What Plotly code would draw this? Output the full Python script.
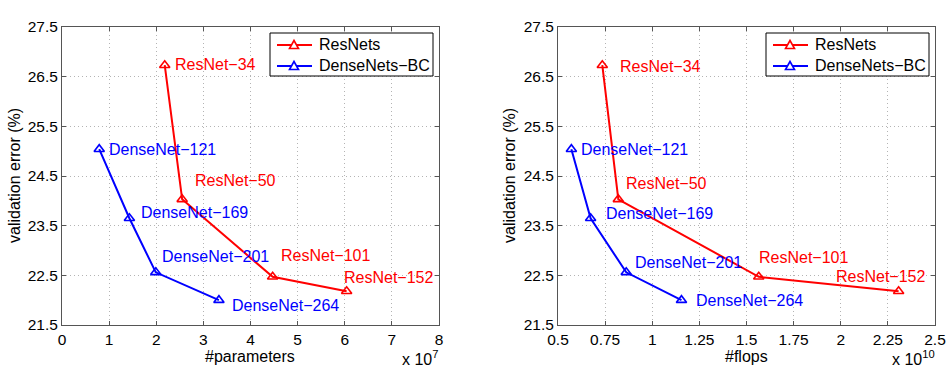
import plotly.graph_objects as go

# ---- data ----
resnet_names = ["ResNet−34", "ResNet−50", "ResNet−101", "ResNet−152"]
resnet_params = [2.18, 2.55, 4.47, 6.04]        # x 1e7
resnet_flops = [0.735, 0.82, 1.565, 2.307]      # x 1e10
resnet_err = [26.73, 24.03, 22.47, 22.18]

dense_names = ["DenseNet−121", "DenseNet−169", "DenseNet−201", "DenseNet−264"]
dense_params = [0.79, 1.43, 1.99, 3.33]         # x 1e7
dense_flops = [0.571, 0.673, 0.862, 1.155]      # x 1e10
dense_err = [25.04, 23.65, 22.56, 22.0]

series_names = ["ResNets", "DenseNets−BC"]

y_ticks = [21.5, 22.5, 23.5, 24.5, 25.5, 26.5, 27.5]
x1_ticks = [0, 1, 2, 3, 4, 5, 6, 7, 8]
x2_ticks = [0.5, 0.75, 1, 1.25, 1.5, 1.75, 2, 2.25, 2.5]
x2_ticklabels = ["0.5", "0.75", "1", "1.25", "1.5", "1.75", "2", "2.25", "2.5"]

# label offsets (pixels) - styling
res_off_1 = [(8, 1), (11, 19), (6, 21), (-5, 14)]
den_off_1 = [(8, 0), (10, 6), (4, 16), (11, -5)]
res_off_2 = [(16, -1), (6, 16), (-2, 19), (-65, 15)]
den_off_2 = [(8, 0), (13, 5), (7, 10), (13, 0)]

RED = "#ff0000"
BLUE = "#0000ff"
FONT = "Liberation Sans, Arial, sans-serif"

W, H = 952, 370
def px(v): return v / W
def py(v): return 1 - v / H

fig = go.Figure()

def add_series(x, y, name, color, xa, ya):
    fig.add_trace(go.Scatter(
        x=x, y=y, mode="lines+markers", name=name, showlegend=False,
        line=dict(color=color, width=2),
        marker=dict(symbol="triangle-up-open", size=9, color=color, line=dict(width=1.6, color=color)),
        xaxis=xa, yaxis=ya))

add_series(resnet_params, resnet_err, series_names[0], RED, "x", "y")
add_series(dense_params, dense_err, series_names[1], BLUE, "x", "y")
add_series(resnet_flops, resnet_err, series_names[0], RED, "x2", "y2")
add_series(dense_flops, dense_err, series_names[1], BLUE, "x2", "y2")

annots = []
shapes = []

def add_labels(xs, ys, names, offs, color, xref, yref):
    for xv, yv, nm, (dx, dy) in zip(xs, ys, names, offs):
        annots.append(dict(x=xv, y=yv, xref=xref, yref=yref, text=nm, showarrow=False,
                           xanchor="left", yanchor="middle", xshift=dx, yshift=dy,
                           font=dict(color=color, size=16, family=FONT)))

add_labels(resnet_params, resnet_err, resnet_names, res_off_1, RED, "x", "y")
add_labels(dense_params, dense_err, dense_names, den_off_1, BLUE, "x", "y")
add_labels(resnet_flops, resnet_err, resnet_names, res_off_2, RED, "x2", "y2")
add_labels(dense_flops, dense_err, dense_names, den_off_2, BLUE, "x2", "y2")

# manual legends (MATLAB-style compact box)
def add_legend(x0, x1, y0, y1):
    shapes.append(dict(type="rect", xref="paper", yref="paper",
                       x0=px(x0), x1=px(x1), y0=py(y1), y1=py(y0),
                       line=dict(color="black", width=1), fillcolor="white", layer="above"))
    for i, (nm, col) in enumerate(zip(series_names, [RED, BLUE])):
        cy = y0 + 12 + i * 21
        shapes.append(dict(type="line", xref="paper", yref="paper",
                           x0=px(x0 + 7), x1=px(x0 + 42), y0=py(cy), y1=py(cy),
                           line=dict(color=col, width=2), layer="above"))
        cx = x0 + 24
        path = "M {:.5f},{:.5f} L {:.5f},{:.5f} L {:.5f},{:.5f} Z".format(
            px(cx - 4.5), py(cy + 3.5), px(cx + 4.5), py(cy + 3.5), px(cx), py(cy - 4.5))
        shapes.append(dict(type="path", xref="paper", yref="paper", path=path,
                           line=dict(color=col, width=1.6), fillcolor="white", layer="above"))
        annots.append(dict(x=px(x0 + 47), y=py(cy), xref="paper", yref="paper", text=nm,
                           showarrow=False, xanchor="left", yanchor="middle",
                           font=dict(size=16, family=FONT, color="black")))

add_legend(270, 433, 33, 76)
add_legend(766, 929, 33, 76)

# axis titles
for cx in (14, 509):
    annots.append(dict(x=px(cx), y=py(176), xref="paper", yref="paper", text="validation error (%)",
                       textangle=-90, showarrow=False, xanchor="center", yanchor="middle",
                       font=dict(size=16, family=FONT, color="black")))
annots.append(dict(x=px(250), y=py(356), xref="paper", yref="paper", text="#parameters",
                   showarrow=False, xanchor="center", yanchor="middle",
                   font=dict(size=16, family=FONT, color="black")))
annots.append(dict(x=px(746), y=py(356), xref="paper", yref="paper", text="#flops",
                   showarrow=False, xanchor="center", yanchor="middle",
                   font=dict(size=16, family=FONT, color="black")))
annots.append(dict(x=px(440), y=py(370), xref="paper", yref="paper", text="x 10<sup>7</sup>",
                   showarrow=False, xanchor="right", yanchor="bottom",
                   font=dict(size=16, family=FONT, color="black")))
annots.append(dict(x=px(937), y=py(370), xref="paper", yref="paper", text="x 10<sup>10</sup>",
                   showarrow=False, xanchor="right", yanchor="bottom",
                   font=dict(size=16, family=FONT, color="black")))

axis_common = dict(showline=True, linecolor="#555", linewidth=1, mirror="ticks",
                   ticks="inside", ticklen=4, tickcolor="#555", automargin=False,
                   showgrid=True, gridcolor="#b4b4b4", griddash="1px,3px", gridwidth=1,
                   zeroline=False, tickfont=dict(size=15.5, family=FONT, color="black"))

fig.update_layout(
    template="none", showlegend=False,
    width=W, height=H, margin=dict(l=0, r=0, t=0, b=0, pad=0, autoexpand=False),
    paper_bgcolor="white", plot_bgcolor="white",
    font=dict(family=FONT, color="black"),
    xaxis=dict(domain=[px(62), px(439)], range=[0, 8], tickvals=x1_ticks, anchor="y", **axis_common),
    yaxis=dict(domain=[py(325), py(27)], range=[21.5, 27.5], tickvals=y_ticks,
               tickformat=".1f", anchor="x", **axis_common),
    xaxis2=dict(domain=[px(558), px(935)], range=[0.5, 2.5], tickvals=x2_ticks, ticktext=x2_ticklabels,
                anchor="y2", **axis_common),
    yaxis2=dict(domain=[py(325), py(27)], range=[21.5, 27.5], tickvals=y_ticks,
                tickformat=".1f", anchor="x2", **axis_common),
    annotations=annots,
    shapes=shapes,
)

fig.write_html("out.html", config={"displayModeBar": False},
               post_script="document.body.style.margin='0px';document.body.style.overflow='hidden';")
